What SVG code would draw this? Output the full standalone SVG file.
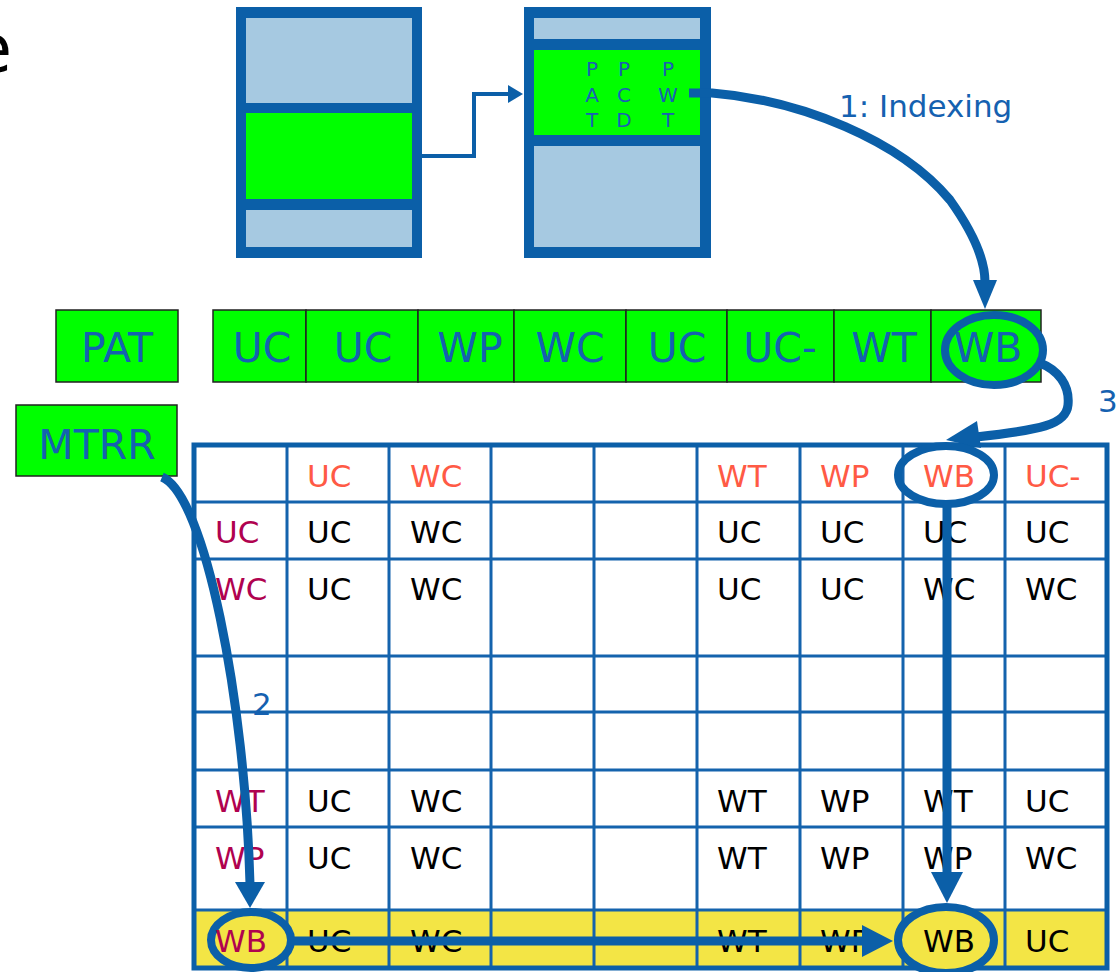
<svg xmlns="http://www.w3.org/2000/svg" width="1118" height="972" viewBox="0 0 1118 972">
<style>
  text { font-family: "DejaVu Sans", Verdana, sans-serif; }
  .pt { fill: #0b5fa8; }
  .lb { fill: #a6c9e1; }
  .gr { fill: #00ff00; }
  .box { fill: #00ff00; stroke: #222; stroke-width: 1.5; }
  .bt { fill: #1561b0; font-size: 41px; text-anchor: middle; }
  .bits { fill: #1a5fb4; font-size: 20px; text-anchor: middle; }
  .grid { stroke: #1463ad; stroke-width: 3; fill: none; }
  .hd { fill: #ff5a45; font-size: 31px; }
  .rl { fill: #b0024f; font-size: 31px; }
  .cell { fill: #000; font-size: 31px; }
  .lbl { fill: #1561b0; font-size: 31px; }
  .arr { stroke: #0b5fa8; fill: none; stroke-width: 9; }
  .head { fill: #0b5fa8; }
  .ring { stroke: #0b5fa8; stroke-width: 8; }
</style>

<text x="12" y="72" font-size="68" text-anchor="end" fill="#000">e</text>

<g id="pagetable1">
  <rect class="pt" x="236" y="7" width="186" height="251"/>
  <rect class="lb" x="246" y="18" width="166" height="85"/>
  <rect class="gr" x="246" y="113" width="166" height="86"/>
  <rect class="lb" x="246" y="210" width="166" height="37"/>
</g>

<g id="pagetable2">
  <rect class="pt" x="524" y="7" width="187" height="251"/>
  <rect class="lb" x="534" y="18" width="166" height="21"/>
  <rect class="gr" x="534" y="50" width="166" height="85"/>
  <rect class="lb" x="534" y="146" width="166" height="101"/>
  <text class="bits" x="592" y="76">P</text>
  <text class="bits" x="592" y="102">A</text>
  <text class="bits" x="592" y="127">T</text>
  <text class="bits" x="624" y="76">P</text>
  <text class="bits" x="624" y="102">C</text>
  <text class="bits" x="624" y="127">D</text>
  <text class="bits" x="668" y="76">P</text>
  <text class="bits" x="668" y="102">W</text>
  <text class="bits" x="668" y="127">T</text>
</g>

<g id="pat-label">
  <rect class="box" x="56" y="310" width="122" height="72"/>
  <text class="bt" x="117" y="362">PAT</text>
</g>

<g id="pat-entries">
  <rect class="box" x="213" y="310" width="93" height="72"/>
  <text class="bt" x="262" y="362">UC</text>
  <rect class="box" x="306" y="310" width="112" height="72"/>
  <text class="bt" x="363" y="362">UC</text>
  <rect class="box" x="418" y="310" width="96" height="72"/>
  <text class="bt" x="470" y="362">WP</text>
  <rect class="box" x="514" y="310" width="112" height="72"/>
  <text class="bt" x="570" y="362">WC</text>
  <rect class="box" x="626" y="310" width="101" height="72"/>
  <text class="bt" x="677" y="362">UC</text>
  <rect class="box" x="727" y="310" width="107" height="72"/>
  <text class="bt" x="780" y="362">UC-</text>
  <rect class="box" x="834" y="310" width="97" height="72"/>
  <text class="bt" x="884" y="362">WT</text>
  <rect class="box" x="931" y="310" width="110" height="72"/>
  <text class="bt" x="988" y="362">WB</text>
</g>

<g id="mtrr-label">
  <rect class="box" x="16" y="405" width="161" height="71"/>
  <text class="bt" x="97" y="459">MTRR</text>
</g>

<g id="table">
  <rect x="194" y="445" width="913" height="523" fill="#fff"/>
  <rect x="194" y="910" width="913" height="58" fill="#f3e545"/>
  <path class="grid" d="M287,445V968M389,445V968M491,445V968M594,445V968M697,445V968M800,445V968M903,445V968M1005,445V968
    M194,502H1107M194,559H1107M194,656H1107M194,712H1107M194,770H1107M194,827H1107M194,910H1107"/>
  <rect x="194" y="445" width="913" height="523" fill="none" stroke="#0b5fa8" stroke-width="5"/>

  <text class="hd" x="307" y="487">UC</text>
  <text class="hd" x="410" y="487">WC</text>
  <text class="hd" x="717" y="487">WT</text>
  <text class="hd" x="820" y="487">WP</text>
  <text class="hd" x="923" y="487">WB</text>
  <text class="hd" x="1025" y="487">UC-</text>

  <text class="rl" x="215" y="543">UC</text>
  <text class="cell" x="307" y="543">UC</text>
  <text class="cell" x="410" y="543">WC</text>
  <text class="cell" x="717" y="543">UC</text>
  <text class="cell" x="820" y="543">UC</text>
  <text class="cell" x="923" y="543">UC</text>
  <text class="cell" x="1025" y="543">UC</text>

  <text class="rl" x="215" y="600">WC</text>
  <text class="cell" x="307" y="600">UC</text>
  <text class="cell" x="410" y="600">WC</text>
  <text class="cell" x="717" y="600">UC</text>
  <text class="cell" x="820" y="600">UC</text>
  <text class="cell" x="923" y="600">WC</text>
  <text class="cell" x="1025" y="600">WC</text>

  <text class="rl" x="215" y="812">WT</text>
  <text class="cell" x="307" y="812">UC</text>
  <text class="cell" x="410" y="812">WC</text>
  <text class="cell" x="717" y="812">WT</text>
  <text class="cell" x="820" y="812">WP</text>
  <text class="cell" x="923" y="812">WT</text>
  <text class="cell" x="1025" y="812">UC</text>

  <text class="rl" x="215" y="869">WP</text>
  <text class="cell" x="307" y="869">UC</text>
  <text class="cell" x="410" y="869">WC</text>
  <text class="cell" x="717" y="869">WT</text>
  <text class="cell" x="820" y="869">WP</text>
  <text class="cell" x="923" y="869">WP</text>
  <text class="cell" x="1025" y="869">WC</text>

  <text class="cell" x="307" y="952">UC</text>
  <text class="cell" x="410" y="952">WC</text>
  <text class="cell" x="717" y="952">WT</text>
  <text class="cell" x="820" y="952">WP</text>
  <text class="cell" x="1025" y="952">UC</text>
</g>

<g id="connectors">
  <!-- page table 1 to page table 2 -->
  <path d="M422,156H474V94H510" fill="none" stroke="#0b5fa8" stroke-width="4"/>
  <polygon class="head" points="508,85 523,94 508,103"/>

  <!-- 1: Indexing -->
  <path class="arr" d="M689,93H712C800,100 900,140 950,200C975,235 985,262 985,282"/>
  <polygon class="head" points="973,280 997,280 985,309"/>
  <text class="lbl" x="839" y="117" font-size="32">1: Indexing</text>

  <!-- PAT WB ring -->
  <ellipse class="ring" cx="994" cy="350" rx="49" ry="35" fill="none"/>

  <!-- 3 -->
  <path class="arr" d="M1040,363C1058,370 1070,385 1068,405C1066,425 1040,430 976,437"/>
  <polygon class="head" points="946,440 977,421 981,448"/>
  <text class="lbl" x="1098" y="412">3</text>

  <!-- header WB ring -->
  <ellipse class="ring" cx="946" cy="475" rx="48" ry="29" fill="none"/>

  <!-- 2: MTRR -->
  <path class="arr" d="M162,477C205,495 245,700 250,884"/>
  <polygon class="head" points="235,882 265,882 250,908"/>
  <text class="lbl" x="252" y="715">2</text>

  <!-- vertical down from header WB -->
  <path class="arr" d="M947,504V875" stroke-width="10"/>
  <polygon class="head" points="931,872 963,872 947,903"/>

  <!-- bottom rings -->
  <ellipse class="ring" cx="251" cy="940" rx="40" ry="28" fill="#f3e545"/>
  <text class="rl" x="215" y="952">WB</text>
  <path class="arr" d="M291,941H865" stroke-width="10"/>
  <polygon class="head" points="862,925 862,957 893,941"/>
  <ellipse class="ring" cx="946" cy="940" rx="48" ry="33" fill="#f3e545" stroke-width="9"/>
  <text class="cell" x="923" y="952">WB</text>
</g>
</svg>
